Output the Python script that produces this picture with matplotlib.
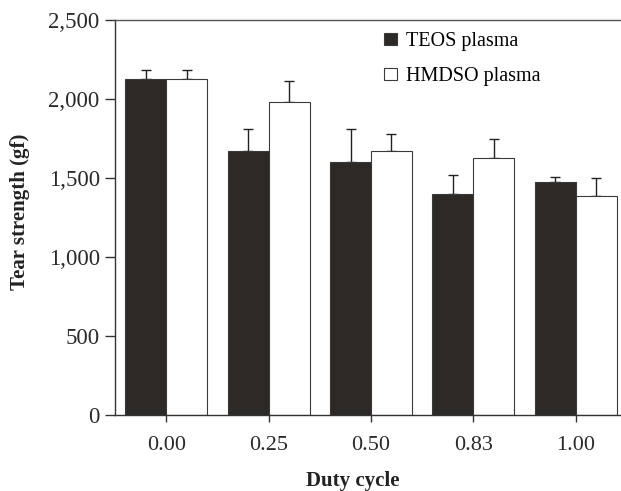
import numpy as np
import matplotlib.pyplot as plt
from matplotlib.ticker import FuncFormatter

plt.rcParams["font.family"] = "Liberation Serif"

duty_cycle = ["0.00", "0.25", "0.50", "0.83", "1.00"]
teos = [2127, 1671, 1599, 1397, 1472]
teos_err = [55, 140, 213, 124, 36]
hmdso = [2127, 1979, 1669, 1625, 1386]
hmdso_err = [55, 135, 111, 122, 114]

fig = plt.figure(figsize=(6.21, 4.91), dpi=100)
ax = fig.add_axes([115 / 621, 76 / 491, 512 / 621, 395 / 491])

x = np.arange(len(duty_cycle))
w = 0.4
edge = "#3a3a3a"

ax.bar(x - w / 2, teos, w, color="#2d2926", edgecolor=edge, linewidth=0.8,
       label="TEOS plasma", zorder=2)
ax.bar(x + w / 2, hmdso, w, color="white", edgecolor=edge, linewidth=0.8,
       label="HMDSO plasma", zorder=2)

# upper error bars only
ax.errorbar(x - w / 2, teos, yerr=[np.zeros(len(teos)), teos_err], fmt="none",
            ecolor="#222222", elinewidth=1, capsize=3.5, capthick=1, zorder=1)
ax.errorbar(x + w / 2, hmdso, yerr=[np.zeros(len(hmdso)), hmdso_err], fmt="none",
            ecolor="#222222", elinewidth=1, capsize=3.5, capthick=1, zorder=1)

ax.set_xlim(-0.5, 4.5)
ax.set_ylim(0, 2500)
ax.set_yticks(np.arange(0, 2501, 500))
ax.yaxis.set_major_formatter(FuncFormatter(lambda v, p: f"{int(v):,}"))
ax.set_xticks(x)
ax.set_xticklabels(duty_cycle)

for s in ["left", "bottom", "top", "right"]:
    ax.spines[s].set_color("#333333")
    ax.spines[s].set_linewidth(1)
ax.spines["top"].set_color("#555555")

ax.tick_params(axis="y", direction="out", length=7, width=1, labelsize=16.5,
               pad=4, colors="#333333", labelcolor="#2a2a2a")
ax.tick_params(axis="x", direction="out", length=5, width=1, labelsize=16,
               pad=10, colors="#333333", labelcolor="#2a2a2a")

fig.text(20 / 621, 1 - 212 / 491, "Tear strength (gf)", rotation=90,
         ha="center", va="center", fontsize=15, fontweight="bold", color="#222222")
fig.text(353 / 621, 1 - 481 / 491, "Duty cycle", ha="center", va="center",
         fontsize=15, fontweight="bold", color="#222222")

ax.legend(loc="upper left", bbox_to_anchor=(0.51, 0.99), frameon=False,
          fontsize=14.5, handlelength=0.65, handleheight=0.5, handletextpad=0.45,
          labelspacing=0.8, borderaxespad=0)

fig.savefig("out.png", dpi=100)
